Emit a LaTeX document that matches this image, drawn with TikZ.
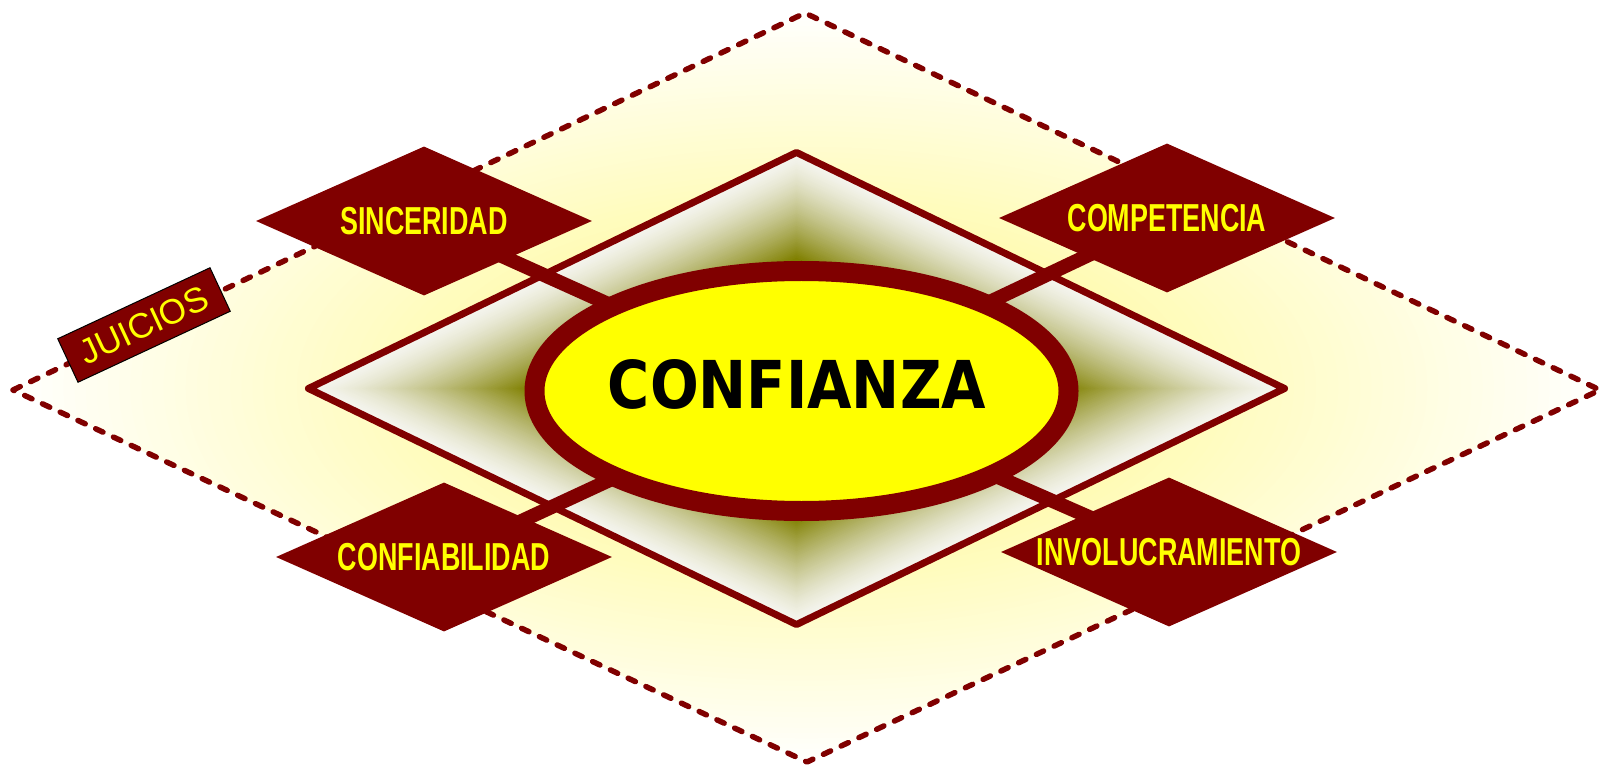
\documentclass[tikz,border=0pt]{standalone}
\usepackage{fontspec}
\setmainfont{Liberation Sans}
\newfontfamily\confont{DejaVu Sans}
\usetikzlibrary{shapes.geometric}
\definecolor{maroon}{RGB}{128,0,0}
\definecolor{labelyellow}{RGB}{255,255,0}
\definecolor{dkolive}{RGB}{128,128,0}
\definecolor{ltgray}{RGB}{246,246,240}
\pgfdeclarelayer{back}
\pgfdeclarelayer{mid}
\pgfsetlayers{back,mid,main}
\newcommand\diatext[1]{\scalebox{0.69}[1]{#1}}
\begin{document}
\begin{tikzpicture}[x=1pt,y=-1pt,
  dashedge/.style={draw=maroon, line width=5.5pt, dash pattern=on 8pt off 11.6pt, line cap=round, line join=round},
  smalldia/.style={shape=diamond, fill=maroon, minimum width=336pt, minimum height=149pt, inner sep=0pt, aspect=2.25, text=labelyellow, font=\bfseries\fontsize{39}{39}\selectfont},
  bar/.style={draw=maroon, line width=14pt},
  coredia/.style={shape=diamond, draw=maroon, line width=7pt, minimum width=979pt, minimum height=475pt, inner sep=0pt, line join=round},
  confell/.style={shape=ellipse, draw=maroon, line width=20pt, fill=labelyellow, minimum width=534pt, minimum height=240pt, inner sep=0pt},
  tag/.style={draw=black, line width=1pt, fill=maroon, minimum width=168pt, minimum height=48pt, inner sep=0pt, text=labelyellow, font=\fontsize{35}{35}\selectfont}]
\useasboundingbox (0,0) rectangle (1604,767);

\begin{pgfonlayer}{back}
  \coordinate (oL) at (13,390);
  \coordinate (oT) at (805,13);
  \coordinate (oR) at (1600,390);
  \coordinate (oB) at (807,762);
  \begin{scope}
    \clip (oL) -- (oT) -- (oR) -- (oB) -- cycle;
    \foreach \i in {0,...,50}{
      \pgfmathsetmacro\k{1.02-0.7*\i/50}
      \pgfmathsetmacro\p{min(32,34*\i/50*1.05)}
      \fill[yellow!\p!white] (806.5,387.5) ellipse [x radius={793.5*\k}, y radius={374.5*\k}];
    }
  \end{scope}
  \draw[dashedge] (oL) -- (oT) -- (oR) -- (oB) -- cycle;
  \foreach \i in {0,...,60}{
    \pgfmathsetmacro\s{1-0.45*\i/60}
    \pgfmathsetmacro\p{100*(\i/60)^1.4}
    \fill[dkolive!\p!ltgray] ({796.5-489.5*\s},388.5) -- (796.5,{388.5-237.5*\s}) -- ({796.5+489.5*\s},388.5) -- (796.5,{388.5+237.5*\s}) -- cycle;
  }
  \node[coredia] (core) at (796.5,388.5) {};
\end{pgfonlayer}

\node[smalldia] (sinc) at (424,221) {\diatext{SINCERIDAD}};
\node[smalldia] (comp) at (1167,218) {\diatext{COMPETENCIA}};
\node[smalldia] (cfab) at (444,557) {\diatext{CONFIABILIDAD}};
\node[smalldia] (invo) at (1169,552) {\diatext{INVOLUCRAMIENTO}};
\node[confell] (conf) at (801.5,391) {};
\node (conftext) at (797,384) {\scalebox{0.87}[1]{\confont\bfseries\fontsize{66}{66}\selectfont CONFIANZA}};
\node[tag, rotate=25] (juicios) at (144,325) {JUICIOS};

\begin{pgfonlayer}{mid}
  \draw[bar] (sinc.center) -- (conf.center);
  \draw[bar] (comp.center) -- (conf.center);
  \draw[bar] (cfab.center) -- (conf.center);
  \draw[bar] (invo.center) -- (conf.center);
\end{pgfonlayer}
\end{tikzpicture}
\end{document}
